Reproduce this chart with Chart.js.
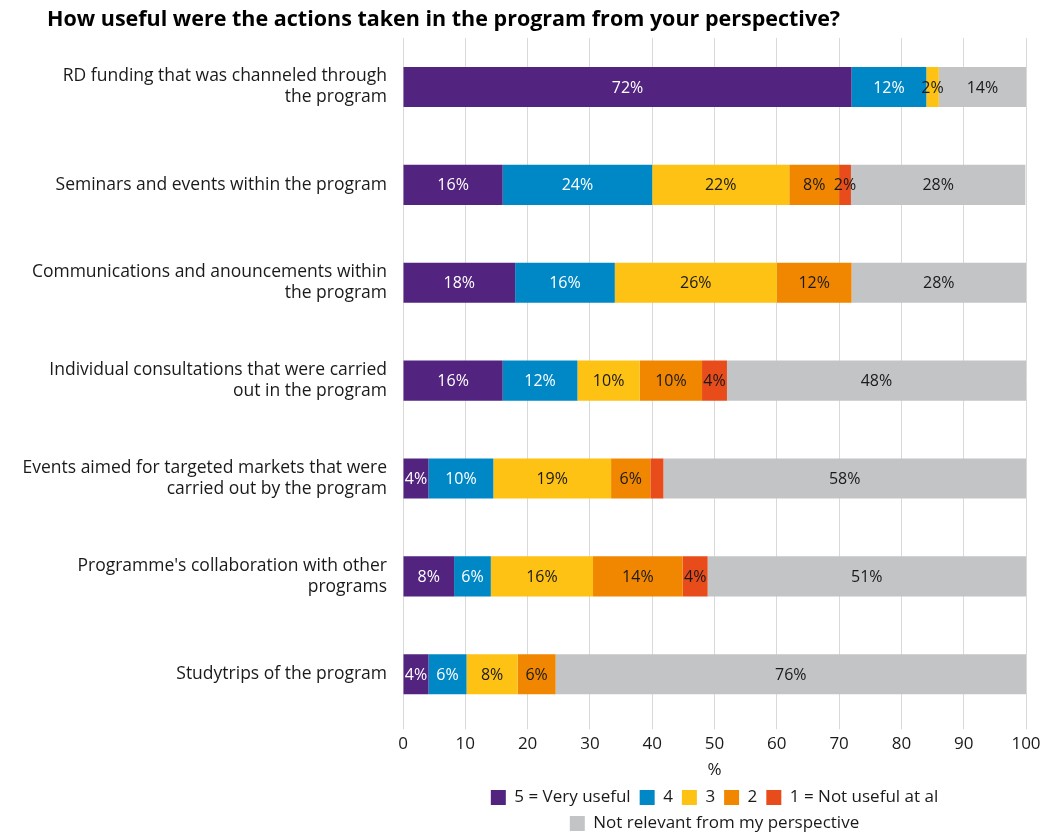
<!DOCTYPE html>
<html>
<head>
<meta charset="utf-8">
<script src="https://cdn.jsdelivr.net/npm/chart.js@4/dist/chart.umd.min.js"></script>
<style>
  html, body { margin: 0; padding: 0; background: #fff; }
  #wrap { width: 1041px; height: 833px; }
</style>
</head>
<body>
<div id="wrap"><canvas id="usefulChart"></canvas></div>
<script>
// Chart data
const chartTitle = "How useful were the actions taken in the program from your perspective?";

const categories = [
  ["RD funding that was channeled through", "the program"],
  "Seminars and events within the program",
  ["Communications and anouncements within", "the program"],
  ["Individual consultations that were carried", "out in the program"],
  ["Events aimed for targeted markets that were", "carried out by the program"],
  ["Programme's collaboration with other", "programs"],
  "Studytrips of the program"
];

const seriesNames = ["5 = Very useful", "4", "3", "2", "1 = Not useful at al", "Not relevant from my perspective"];

const veryUseful   = [72, 16, 18, 16, 4.1, 8.2, 4.1];
const four         = [12, 24, 16, 12, 10.4, 5.9, 6.1];
const three        = [2, 22, 26, 10, 18.9, 16.4, 8.2];
const two          = [0, 8, 12, 10, 6.3, 14.4, 6.1];
const notUseful    = [0, 1.9, 0, 4, 2.1, 4, 0];
const notRelevant  = [14, 28, 28, 48, 58.2, 51.1, 75.5];

// label text shown inside each segment (null = no label)
const shownLabels = [
  ["72%", "16%", "18%", "16%", "4%", "8%", "4%"],
  ["12%", "24%", "16%", "12%", "10%", "6%", "6%"],
  ["2%", "22%", "26%", "10%", "19%", "16%", "8%"],
  [null, "8%", "12%", "10%", "6%", "14%", "6%"],
  [null, "2%", null, "4%", null, "4%", null],
  ["14%", "28%", "28%", "48%", "58%", "51%", "76%"]
];

const xTicks = [0, 10, 20, 30, 40, 50, 60, 70, 80, 90, 100];

const colors = ["#52247f", "#0088c6", "#fdc214", "#f18700", "#e84c1a", "#c3c4c6"];
const labelColors = ["#ffffff", "#ffffff", "#1a1a1a", "#1a1a1a", "#1a1a1a", "#1a1a1a"];

const FONT = "'Open Sans', 'Noto Sans', sans-serif";

const allSeries = [veryUseful, four, three, two, notUseful, notRelevant];

// Draw segment labels
const segmentLabels = {
  id: "segmentLabels",
  afterDatasetsDraw(chart) {
    const ctx = chart.ctx;
    ctx.save();
    ctx.font = "16px " + FONT;
    ctx.textAlign = "center";
    ctx.textBaseline = "middle";
    chart.data.datasets.forEach((ds, i) => {
      const meta = chart.getDatasetMeta(i);
      meta.data.forEach((bar, j) => {
        const txt = shownLabels[i][j];
        if (!txt) return;
        ctx.fillStyle = labelColors[i];
        ctx.fillText(txt, (bar.x + bar.base) / 2, bar.y + 1);
      });
    });
    ctx.restore();
  }
};

// Title drawn at the top left
const topTitle = {
  id: "topTitle",
  afterDraw(chart) {
    const ctx = chart.ctx;
    ctx.save();
    ctx.font = "bold 21.5px " + FONT;
    ctx.fillStyle = "#000";
    ctx.textAlign = "left";
    ctx.textBaseline = "middle";
    ctx.fillText(chartTitle, 47, 20);
    ctx.restore();
  }
};

const data = {
  labels: categories,
  datasets: allSeries.map((values, i) => ({
    label: seriesNames[i],
    data: values,
    backgroundColor: colors[i],
    borderWidth: 0,
    barPercentage: 0.41,
    categoryPercentage: 1
  }))
};

const options = {
  indexAxis: "y",
  responsive: true,
  maintainAspectRatio: false,
  animation: false,
  layout: { padding: { top: 38, right: 0, bottom: -9, left: 10 } },
  plugins: {
    legend: {
      position: "bottom",
      fullSize: false,
      labels: {
        font: { family: FONT, size: 17 },
        color: "#1a1a1a",
        boxWidth: 15,
        boxHeight: 15,
        padding: 9
      }
    },
    tooltip: { enabled: false }
  },
  scales: {
    x: {
      stacked: true,
      min: 0,
      max: 100,
      afterBuildTicks: axis => { axis.ticks = xTicks.map(v => ({ value: v })); },
      afterFit: axis => { axis.paddingRight = 15; },
      ticks: { font: { family: FONT, size: 17 }, color: "#1a1a1a", padding: 5 },
      grid: { color: "#d9d9d9", tickLength: 6 },
      border: { display: false },
      title: { display: true, text: "%", font: { family: FONT, size: 17 }, color: "#1a1a1a", padding: { top: 0, bottom: 0 } }
    },
    y: {
      stacked: true,
      afterFit: axis => { axis.width = 393; },
      ticks: { font: { family: FONT, size: 17.5 }, color: "#1a1a1a", padding: 8 },
      grid: { display: false },
      border: { display: true, color: "#d9d9d9" }
    }
  }
};

new Chart(document.getElementById("usefulChart").getContext("2d"), {
  type: "bar",
  data: data,
  options: options,
  plugins: [segmentLabels, topTitle]
});
</script>
</body>
</html>
